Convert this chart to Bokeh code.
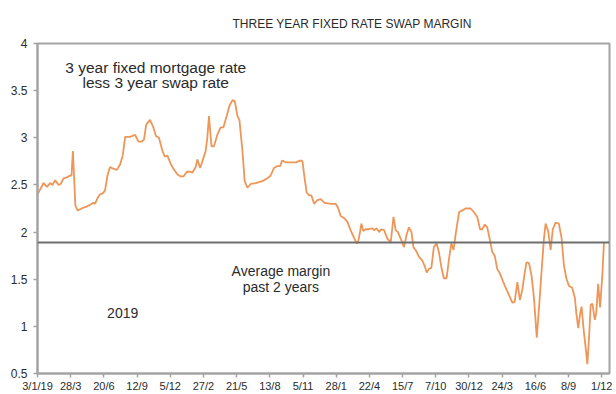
import numpy as np
from bokeh.plotting import figure
from bokeh.models import FixedTicker, Label, Span
from bokeh.embed import file_html
from bokeh.resources import INLINE

# x positions are weeks since 3/1/2019 (weekly data)
tick_weeks = [0, 12, 24, 36, 48, 60, 72, 84, 96, 108, 120, 132, 144, 156, 168, 180, 192, 204]
tick_labels = ["3/1/19", "28/3", "20/6", "12/9", "5/12", "27/2", "21/5", "13/8", "5/11",
               "28/1", "22/4", "15/7", "7/10", "30/12", "24/3", "16/6", "8/9", "1/12"]

weeks = [0, 2.2, 3.4, 4.6, 5.5, 6.4, 7.6, 8.4, 9.4, 10.6, 11.8, 12.3, 12.8, 13.2, 13.7, 14.5,
         15.4, 16.6, 17.8, 19.0, 20.2, 20.8, 21.7, 22.6, 23.6, 24.4, 25.3, 26.2, 27.5, 28.7,
         29.9, 30.8, 31.7, 33.5, 35.3, 36.5, 37.7, 38.5, 39.3, 40.7, 41.9, 42.8, 43.9, 45.2,
         46.0, 47.0, 48.2, 49.4, 50.6, 51.8, 52.8, 54.0, 55.2, 56.0, 57.2, 57.8, 58.8, 59.6,
         60.8, 61.4, 62.0, 62.9, 63.8, 65.0, 66.2, 67.2, 68.4, 69.4, 70.5, 71.3, 72.3, 73.0,
         74.1, 74.9, 75.9, 77.1, 78.9, 80.1, 81.3, 83.1, 84.3, 85.5, 86.7, 87.7, 88.5, 89.7,
         91.5, 93.4, 95.2, 95.8, 96.4, 97.3, 98.2, 99.0, 100.0, 101.2, 102.4, 103.8, 106.0,
         107.8, 108.6, 109.6, 110.8, 112.0, 113.2, 114.4, 115.4, 115.9, 116.6, 117.1, 117.8,
         118.6, 119.8, 121.1, 121.6, 122.6, 123.5, 124.3, 125.3, 126.5, 127.7, 128.7, 129.5,
         130.3, 131.3, 132.5, 133.5, 134.3, 135.2, 135.9, 136.7, 137.9, 139.1, 140.0, 140.7,
         141.5, 142.4, 143.3, 144.3, 145.1, 146.0, 146.9, 147.9, 148.8, 149.6, 150.4, 151.2,
         152.4, 153.6, 154.8, 156.6, 157.8, 159.0, 160.0, 160.8, 161.7, 162.6, 163.6, 164.4,
         165.3, 166.2, 167.2, 168.4, 169.6, 170.8, 171.7, 172.5, 173.5, 174.4, 175.3, 176.1,
         176.8, 177.7, 178.6, 179.5, 180.5, 181.3, 182.3, 183.1, 183.7, 184.7, 185.5, 186.3,
         187.3, 188.5, 189.5, 190.3, 191.2, 192.1, 193.3, 194.3, 194.8, 195.5, 196.1, 196.7,
         197.5, 198.2, 198.8, 199.4, 200.0, 200.6, 201.5, 202.0, 202.7, 203.4, 204.2, 204.8]

margin = [2.40, 2.52, 2.48, 2.52, 2.50, 2.55, 2.50, 2.51, 2.57, 2.58, 2.60, 2.60, 2.86, 2.60, 2.28, 2.23,
          2.24, 2.26, 2.27, 2.29, 2.31, 2.30, 2.36, 2.40, 2.41, 2.44, 2.60, 2.69, 2.67, 2.66,
          2.72, 2.81, 3.01, 3.01, 3.03, 2.96, 2.96, 2.98, 3.14, 3.19, 3.11, 3.02, 3.00, 2.86,
          2.80, 2.81, 2.72, 2.66, 2.61, 2.59, 2.59, 2.64, 2.64, 2.63, 2.69, 2.77, 2.68, 2.75,
          2.86, 3.00, 3.23, 2.91, 2.91, 3.03, 3.11, 3.11, 3.23, 3.34, 3.40, 3.39, 3.23, 3.19,
          2.86, 2.54, 2.47, 2.51, 2.52, 2.53, 2.54, 2.57, 2.60, 2.68, 2.70, 2.70, 2.76, 2.74,
          2.74, 2.74, 2.76, 2.75, 2.61, 2.42, 2.39, 2.39, 2.30, 2.34, 2.35, 2.31, 2.30,
          2.30, 2.26, 2.17, 2.15, 2.11, 2.02, 1.94, 1.88, 1.89, 2.00, 2.09, 2.01,
          2.03, 2.03, 2.04, 2.02, 2.04, 2.00, 2.03, 2.02, 1.93, 1.89, 2.16, 2.02,
          2.00, 1.93, 1.84, 1.98, 2.05, 2.00, 1.84, 1.81, 1.74, 1.70, 1.64, 1.57,
          1.61, 1.62, 1.84, 1.88, 1.79, 1.63, 1.51, 1.51, 1.72, 1.88, 1.81, 1.98,
          2.21, 2.23, 2.25, 2.25, 2.21, 2.16, 2.03, 2.03, 2.08, 2.05, 1.91, 1.79,
          1.75, 1.61, 1.56, 1.47, 1.39, 1.31, 1.25, 1.26, 1.47, 1.28, 1.39, 1.56,
          1.68, 1.67, 1.54, 1.30, 0.88, 1.19, 1.61, 1.93, 2.09, 2.00, 1.81, 2.03,
          2.10, 2.09, 1.93, 1.65, 1.51, 1.43, 1.41, 1.30, 1.14, 0.98, 1.12, 1.21,
          0.95, 0.77, 0.60, 0.88, 1.23, 1.24, 1.07, 1.14, 1.45, 1.20, 1.54, 1.89]

avg_margin = 1.89
y_ticks = [0.5, 1, 1.5, 2, 2.5, 3, 3.5, 4]
y_tick_labels = ["0.5", "1", "1.5", "2", "2.5", "3", "3.5", "4"]

FONT = "Liberation Sans"
GREY = "#a3a3a3"
TXT = "#2b2b2b"

p = figure(width=616, height=394, x_range=(0, 206.8), y_range=(0.5, 4),
           output_backend="svg", toolbar_location=None,
           min_border_left=37, min_border_right=7, min_border_top=43, min_border_bottom=18)

p.title.text = "THREE YEAR FIXED RATE SWAP MARGIN"
p.title.align = "left"
p.title.offset = 195
p.title.standoff = 25
p.title.text_font = FONT
p.title.text_font_style = "normal"
p.title.text_font_size = "12px"
p.title.text_color = TXT

p.grid.visible = False
p.background_fill_color = "white"
p.border_fill_color = "white"
p.outline_line_color = GREY
p.outline_line_width = 2

for ax in (p.xaxis[0], p.yaxis[0]):
    ax.axis_line_color = GREY
    ax.axis_line_width = 2
    ax.major_tick_line_color = GREY
    ax.major_tick_line_width = 1.5
    ax.major_tick_in = 0
    ax.major_tick_out = 4
    ax.minor_tick_line_color = None
    ax.major_label_text_font = FONT
    ax.major_label_text_font_size = "11px"
    ax.major_label_text_color = TXT

p.xaxis.ticker = FixedTicker(ticks=tick_weeks)
p.xaxis.major_label_overrides = {w: l for w, l in zip(tick_weeks, tick_labels)}
p.xaxis.major_label_standoff = 2
p.yaxis.ticker = FixedTicker(ticks=y_ticks)
p.yaxis.major_label_overrides = {v: l for v, l in zip(y_ticks, y_tick_labels)}
p.yaxis.major_label_standoff = 6
p.yaxis.major_label_text_font_size = "12px"

p.add_layout(Span(location=avg_margin, dimension="width", line_color="#6e6e6e", line_width=2))
p.line(weeks, margin, line_color="#EE9658", line_width=1.8)

def lab(x, y, t, size="14px"):
    p.add_layout(Label(x=x, y=y, text=t, text_align="center", text_baseline="middle",
                       text_font=FONT, text_font_size=size, text_color=TXT))

lab(42.75, 3.75, "3 year fixed mortgage rate", "15.5px")
lab(42.75, 3.59, "less 3 year swap rate", "15.5px")
lab(88.0, 1.59, "Average margin")
lab(88.0, 1.415, "past 2 years")
lab(30.8, 1.14, "2019")

open("out.html", "w").write(file_html(p, INLINE))
